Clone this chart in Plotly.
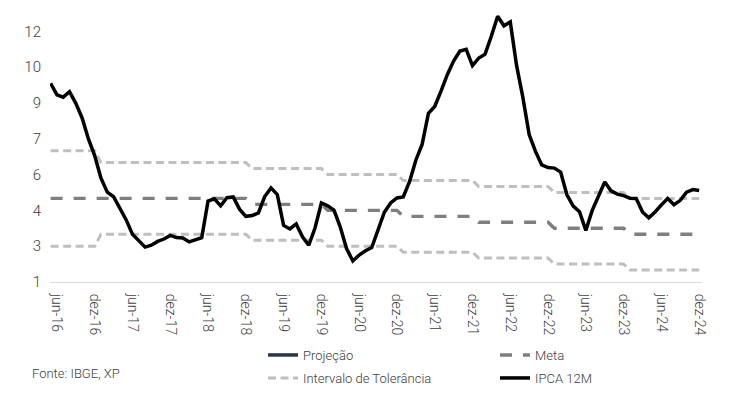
import plotly.graph_objects as go

# ---- data ----
month_names = ["jan", "fev", "mar", "abr", "mai", "jun", "jul", "ago", "set", "out", "nov", "dez"]
start_year, start_month = 2016, 5   # mai-16
end_year, end_month = 2024, 12      # dez-24

ipca_12m = [
    9.32, 8.84, 8.74, 8.97, 8.48, 7.87, 6.99, 6.29,                       # 2016 (mai-dez)
    5.35, 4.76, 4.57, 4.08, 3.60, 3.00, 2.71, 2.46, 2.54, 2.70, 2.80, 2.95,  # 2017
    2.86, 2.84, 2.68, 2.76, 2.86, 4.39, 4.48, 4.19, 4.53, 4.56, 4.05, 3.75,  # 2018
    3.78, 3.89, 4.58, 4.94, 4.66, 3.37, 3.22, 3.43, 2.89, 2.54, 3.27, 4.31,  # 2019
    4.19, 4.01, 3.30, 2.40, 1.88, 2.13, 2.31, 2.44, 3.14, 3.92, 4.31, 4.52,  # 2020
    4.56, 5.20, 6.10, 6.76, 8.06, 8.35, 8.99, 9.68, 10.25, 10.67, 10.74, 10.06,  # 2021
    10.38, 10.54, 11.30, 12.13, 11.73, 11.89, 10.07, 8.73, 7.17, 6.47, 5.90, 5.79,  # 2022
    5.77, 5.60, 4.65, 4.18, 3.94, 3.16, 3.99, 4.61, 5.19, 4.82, 4.68, 4.62,  # 2023
    4.51, 4.50, 3.93, 3.69, 3.93, 4.23, 4.50, 4.24, 4.42, 4.76, 4.87, 4.83,  # 2024
]

meta_years = [2016, 2017, 2018, 2019, 2020, 2021, 2022, 2023, 2024]
meta_values = [4.5, 4.5, 4.5, 4.25, 4.0, 3.75, 3.5, 3.25, 3.0]
tolerance_band = [2.0, 1.5, 1.5, 1.5, 1.5, 1.5, 1.5, 1.5, 1.5]

projecao = []  # no visible projection points

x_tick_labels = ["jun-16", "dez-16", "jun-17", "dez-17", "jun-18", "dez-18", "jun-19",
                 "dez-19", "jun-20", "dez-20", "jun-21", "dez-21", "jun-22", "dez-22",
                 "jun-23", "dez-23", "jun-24", "dez-24"]
y_tick_vals = [1, 2.5, 4, 5.5, 7, 8.5, 10, 11.5]
y_tick_text = ["1", "3", "4", "6", "7", "9", "10", "12"]

# ---- build monthly series ----
categories, years = [], []
y, m = start_year, start_month
while (y, m) <= (end_year, end_month):
    categories.append(f"{month_names[m - 1]}-{str(y)[2:]}")
    years.append(y)
    m += 1
    if m > 12:
        m = 1
        y += 1

meta_map = dict(zip(meta_years, meta_values))
band_map = dict(zip(meta_years, tolerance_band))
meta_series = [meta_map[yr] for yr in years]
tol_upper = [meta_map[yr] + band_map[yr] for yr in years]
tol_lower = [meta_map[yr] - band_map[yr] for yr in years]

FONT = "Roboto"
TXT = "#404040"

fig = go.Figure()
fig.add_trace(go.Scatter(x=categories, y=tol_upper, mode="lines", name="Intervalo de Tolerância",
                         line=dict(color="#bfbfbf", width=3, dash="8px,4.5px"), legend="legend3"))
fig.add_trace(go.Scatter(x=categories, y=tol_lower, mode="lines", name="Intervalo de Tolerância",
                         line=dict(color="#bfbfbf", width=3, dash="8px,4.5px"), showlegend=False))
fig.add_trace(go.Scatter(x=categories, y=meta_series, mode="lines", name="Meta",
                         line=dict(color="#7f7f7f", width=3.4, dash="12px,11px"), legend="legend2"))
fig.add_trace(go.Scatter(x=categories[:len(projecao)] if projecao else [None],
                         y=projecao if projecao else [None], mode="lines", name="Projeção",
                         line=dict(color="#2b3648", width=3.5), legend="legend"))
fig.add_trace(go.Scatter(x=categories, y=ipca_12m, mode="lines", name="IPCA 12M",
                         line=dict(color="#000000", width=3.5), legend="legend4"))

# page has an 8px body margin; figure coords = page coords - 8
OFF = 8
W, H = 747 - OFF, 396 - OFF
ML = 50 - OFF
PW = 652
MR = W - ML - PW
PLOT_BOTTOM = 282 - OFF
MB = H - PLOT_BOTTOM
MT = 0
PH = PLOT_BOTTOM - MT
UNIT = 23.88
Y_TOP = 1 + PH / UNIT


def px_x(px):
    return (px - OFF - ML) / PW


def px_y(py):
    return (PLOT_BOTTOM - (py - OFF)) / PH


leg_common = dict(orientation="v", xanchor="left", yanchor="middle", bgcolor="rgba(0,0,0,0)",
                  font=dict(family=FONT, size=13, color=TXT, weight=300), itemwidth=30)

fig.update_layout(
    width=W, height=H,
    margin=dict(l=ML, r=MR, t=MT, b=MB),
    plot_bgcolor="white", paper_bgcolor="white",
    font=dict(family=FONT, color=TXT, weight=300),
    xaxis=dict(type="category", categoryorder="array", categoryarray=categories,
               range=[-0.1, len(categories) - 1 + 0.45],
               tickmode="array", tickvals=x_tick_labels, ticktext=x_tick_labels,
               tickangle=90, tickfont=dict(family=FONT, size=14, color=TXT, weight=300),
               showgrid=False, zeroline=False, showline=True, linecolor="#d9d9d9", linewidth=1,
               ticks="", ticklabelstandoff=8),
    yaxis=dict(range=[1, Y_TOP], tickmode="array", tickvals=y_tick_vals, ticktext=y_tick_text,
               tickfont=dict(family=FONT, size=15, color=TXT, weight=300),
               showgrid=False, zeroline=False, showline=False, ticks="", ticklabelstandoff=8),
    legend=dict(x=px_x(263), y=px_y(355), **leg_common),
    legend2=dict(x=px_x(495), y=px_y(355), **leg_common),
    legend3=dict(x=px_x(263), y=px_y(378), **leg_common),
    legend4=dict(x=px_x(495), y=px_y(378), **leg_common),
    annotations=[dict(text="Fonte: IBGE, XP", xref="paper", yref="paper", x=px_x(30), y=px_y(373),
                      xanchor="left", yanchor="middle", showarrow=False,
                      font=dict(family=FONT, size=13, color=TXT, weight=300))],
)

fig.write_html("out.html")
